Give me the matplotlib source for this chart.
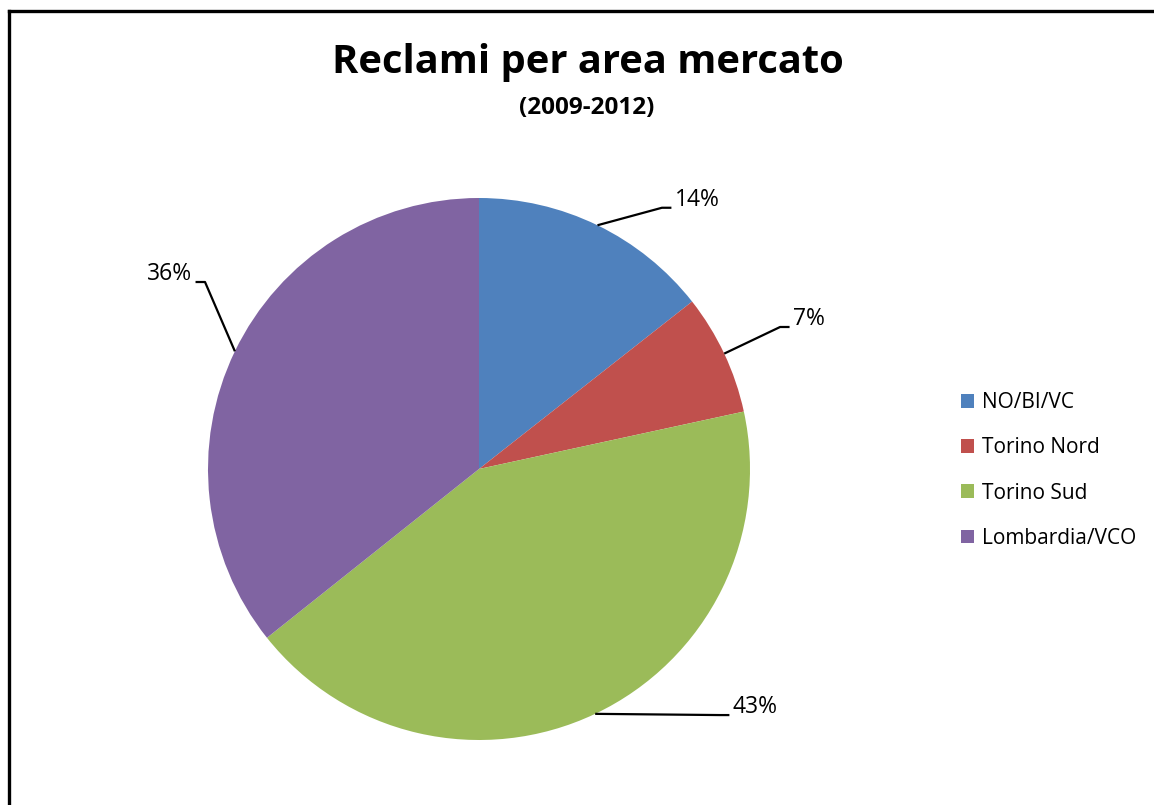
import matplotlib
matplotlib.use("Agg")
import matplotlib.pyplot as plt
from matplotlib.lines import Line2D
from matplotlib.patches import Patch
import numpy as np

# data (shares)
areas = ["NO/BI/VC", "Torino Nord", "Torino Sud", "Lombardia/VCO"]
shares = [14.4, 7.2, 42.7, 35.7]
colors = ["#4F81BD", "#C0504D", "#9BBB59", "#8064A2"]

# leader elbows (data units, pie radius = 1)
elbow_pos = [(0.675, 0.964), (1.111, 0.524), (0.889, -0.908), (-1.011, 0.690)]

W, H = 1154, 805
CX, CY, R = 479, 469, 271
FONT = ["Open Sans", "DejaVu Sans"]

fig = plt.figure(figsize=(W / 100, H / 100), dpi=100)
ax = fig.add_axes([0, 0, 1, 1])

wedges, _ = ax.pie(shares, colors=colors, startangle=90, counterclock=False,
                   radius=1, center=(0, 0), frame=True,
                   wedgeprops=dict(linewidth=0))
ax.set_xlim(-CX / R, (W - CX) / R)
ax.set_ylim((CY - H) / R, CY / R)
ax.set_aspect("auto")
ax.axis("off")

total = sum(shares)
start = 90.0
for w, v, (ex, ey) in zip(wedges, shares, elbow_pos):
    mid = np.deg2rad(start - v / total * 360 / 2)
    start -= v / total * 360
    px, py = np.cos(mid), np.sin(mid)
    side = 1 if ex > 0 else -1
    hx = ex + side * 0.035
    ax.plot([px, ex, hx], [py, ey, ey], color="black", lw=1.6,
            solid_capstyle="butt")
    ax.text(hx + side * 0.012, ey + 0.03, f"{round(v)}%",
            ha="left" if side > 0 else "right", va="center",
            fontsize=16.5, family=FONT, color="black")

fig.text(588 / W, 1 - 63 / H, "Reclami per area mercato", ha="center",
         va="center", fontsize=28.7, fontweight="bold", family=FONT)
fig.text(587 / W, 1 - 108 / H, "(2009-2012)", ha="center", va="center",
         fontsize=17.5, fontweight="bold", family=FONT)

handles = [Patch(facecolor=c, edgecolor="none") for c in colors]
fig.legend(handles, areas, loc="center left",
           bbox_to_anchor=(961 / W, 1 - 470.5 / H), frameon=False,
           prop=dict(family=FONT, size=15), handlelength=0.63,
           handleheight=0.63, handletextpad=0.38, labelspacing=1.16,
           borderpad=0, borderaxespad=0)

# chart border (only top and left visible)
fig.add_artist(Line2D([9 / W, 1], [1 - 11 / H, 1 - 11 / H], color="black",
                      lw=2.4, transform=fig.transFigure))
fig.add_artist(Line2D([9 / W, 9 / W], [0, 1 - 11 / H], color="black",
                      lw=2.4, transform=fig.transFigure))

fig.savefig("out.png", dpi=100, facecolor="white")
